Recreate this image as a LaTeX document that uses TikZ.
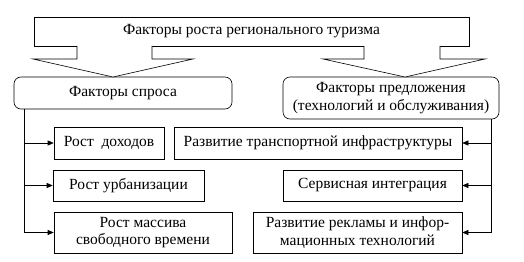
\documentclass[tikz,border=0pt]{standalone}
\usepackage{fontspec}
\setmainfont{Liberation Serif}
\usetikzlibrary{arrows.meta, positioning}

\begin{document}
\begin{tikzpicture}[x=1pt, y=-1pt,
    box/.style={rectangle, draw, line width=0.6pt, inner sep=0pt, align=center, font=\rmfamily\fontsize{15.5}{17.5}\selectfont},
    rbox/.style={box, rounded corners=7pt},
    arrow/.style={-{Triangle[length=6pt, width=5pt]}, line width=0.6pt},
    hollow/.style={draw, line width=0.6pt, fill=white}
]
\useasboundingbox (0,0) rectangle (524,262);

\node[box, minimum width=435pt, minimum height=29pt] (title) at (251.5,31.5) {Факторы роста регионального туризма};

\node[rbox, minimum width=218pt, minimum height=32pt] (spros) at (123,93) {Факторы спроса};
\node[rbox, minimum width=216pt, minimum height=42pt] (predl) at (391,98) {Факторы предложения\\(технологий и обслуживания)};

\node[box, minimum width=110pt, minimum height=32pt] (dohod) at (109,143) {Рост\ \ доходов};
\node[box, minimum width=151pt, minimum height=31pt] (urban) at (128.5,185.5) {Рост урбанизации};
\node[box, minimum width=178pt, minimum height=41pt] (vremya) at (143,232.5) {Рост массива\\свободного времени};

\node[box, minimum width=288pt, minimum height=32pt] (transport) at (318,143) {Развитие транспортной инфраструктуры};
\node[box, minimum width=179pt, minimum height=31pt] (servis) at (372.5,185.5) {Сервисная интеграция};
\node[box, minimum width=209pt, minimum height=41pt] (reklama) at (357.5,232.5) {Развитие рекламы и инфор-\\мационных технологий};

% hollow arrows from the title
\draw[hollow] (77,46) -- (77,59) -- (33,59) -- (113,77) -- (193,59) -- (152,59) -- (152,46);
\draw[hollow] (364,46) -- (364,59) -- (323,59) -- (405,77) -- (485,59) -- (440,59) -- (440,46);

\coordinate (lbus) at (24,109);
\coordinate (rbus) at (491,119);

\draw[arrow] (lbus) |- (dohod);
\draw[arrow] (lbus) |- (urban);
\draw[arrow] (lbus) |- (vremya);

\draw[arrow] (rbus) |- (transport);
\draw[arrow] (rbus) |- (servis);
\draw[arrow] (rbus) |- (reklama);
\end{tikzpicture}
\end{document}
